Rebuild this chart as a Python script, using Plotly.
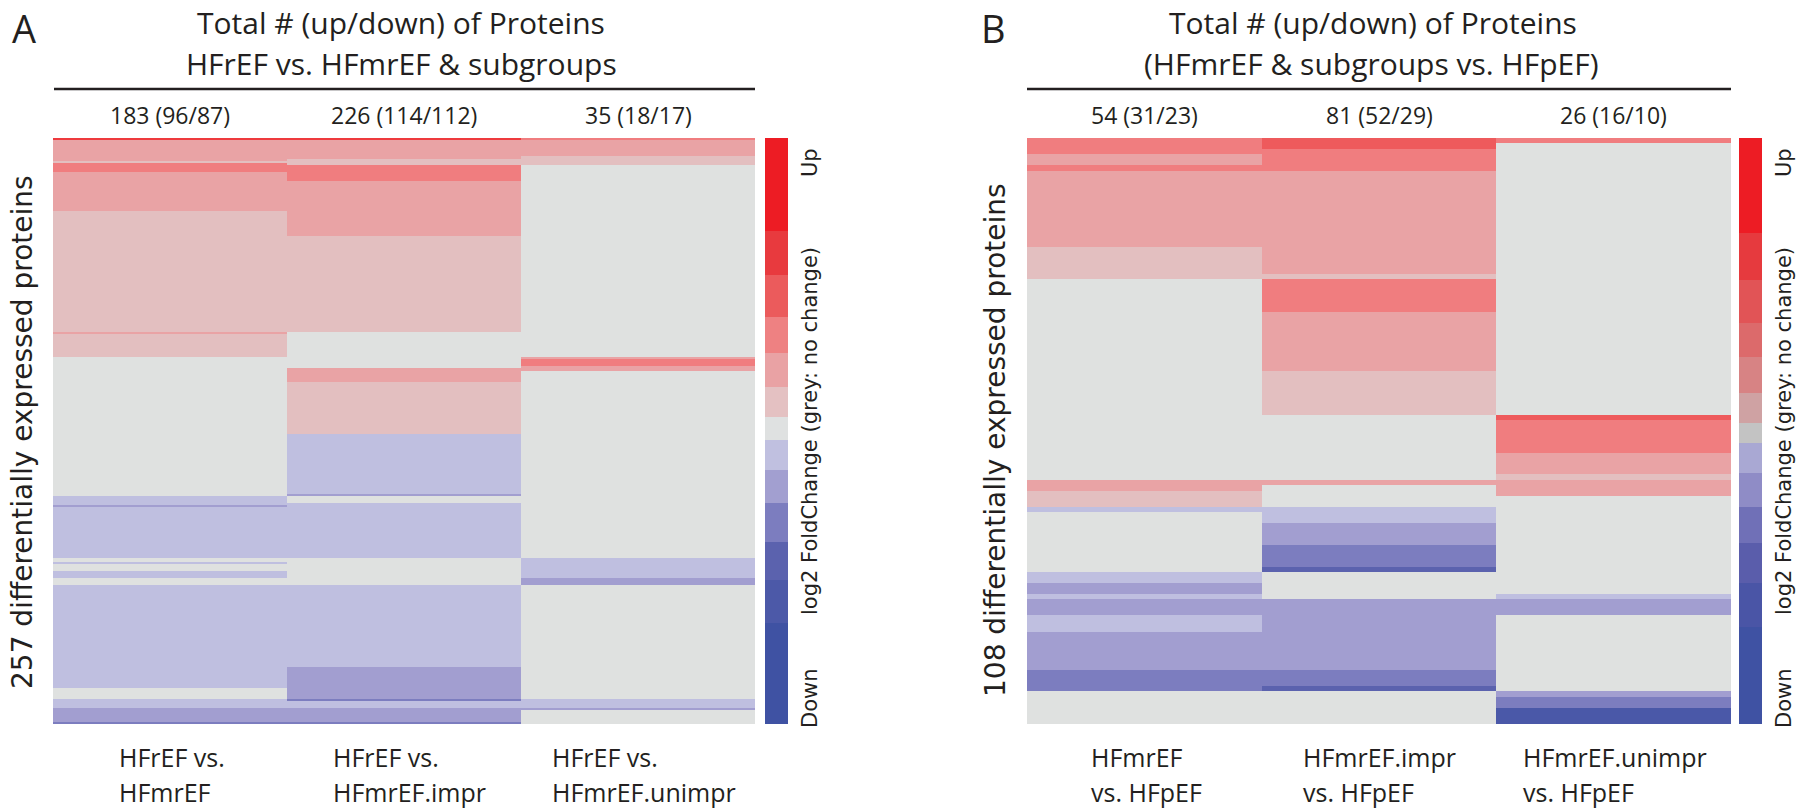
import plotly.graph_objects as go

# ---------------- DATA ----------------
# run-length encoded rows per comparison: (log2FC level, number of proteins)
# level: +6 strongest up ... 0 no change ... -6 strongest down
A_columns = ["HFrEF vs. HFmrEF", "HFrEF vs. HFmrEF.impr", "HFrEF vs. HFmrEF.unimpr"]
A_counts = ["183 (96/87)", "226 (114/112)", "35 (18/17)"]
A_col1_runs = [(5, 1), (2, 9), (1, 1), (3, 4), (2, 17), (1, 53), (2, 1), (1, 10), (0, 61),
               (-1, 4), (-2, 1), (-1, 22), (0, 2), (-1, 1), (0, 3), (-1, 3), (0, 3),
               (-1, 45), (0, 5), (-1, 4), (-2, 6), (-3, 1)]
A_col2_runs = [(5, 1), (2, 8), (1, 3), (3, 7), (2, 24), (1, 42), (0, 16), (2, 6), (1, 23),
               (-1, 26), (-2, 1), (0, 3), (-1, 24), (0, 12), (-1, 36), (-2, 14), (-3, 1),
               (-1, 3), (-2, 6), (-3, 1)]
A_col3_runs = [(3, 1), (2, 7), (1, 4), (0, 84), (2, 1), (3, 3), (2, 2), (0, 82), (-1, 9),
               (-2, 3), (0, 50), (-1, 4), (-2, 1), (0, 6)]

B_columns = ["HFmrEF vs. HFpEF", "HFmrEF.impr vs. HFpEF", "HFmrEF.unimpr vs. HFpEF"]
B_counts = ["54 (31/23)", "81 (52/29)", "26 (16/10)"]
B_col1_runs = [(3, 3), (2, 2), (3, 1), (2, 14), (1, 6), (0, 37), (2, 2), (1, 3), (-1, 1),
               (0, 11), (-1, 2), (-2, 2), (-1, 1), (-2, 3), (-1, 3), (-2, 7), (-3, 4), (0, 6)]
B_col2_runs = [(4, 2), (3, 4), (2, 19), (1, 1), (3, 6), (2, 11), (1, 8), (0, 12), (2, 1),
               (0, 4), (-1, 3), (-2, 4), (-3, 4), (-4, 1), (0, 5), (-2, 13), (-3, 3), (-4, 1), (0, 6)]
B_col3_runs = [(3, 1), (0, 50), (4, 1), (3, 6), (2, 4), (1, 1), (2, 3), (0, 18), (-1, 1),
               (-2, 3), (0, 14), (-2, 1), (-3, 2), (-5, 3)]

A_title = ["Total # (up/down) of Proteins", "HFrEF vs. HFmrEF & subgroups"]
B_title = ["Total # (up/down) of Proteins", "(HFmrEF & subgroups vs. HFpEF)"]
A_ylabel = "257 differentially expressed proteins"
B_ylabel = "108 differentially expressed proteins"
A_xlabels = [["HFrEF vs.", "HFmrEF"], ["HFrEF vs.", "HFmrEF.impr"], ["HFrEF vs.", "HFmrEF.unimpr"]]
B_xlabels = [["HFmrEF", "vs. HFpEF"], ["HFmrEF.impr", "vs. HFpEF"], ["HFmrEF.unimpr", "vs. HFpEF"]]
cbar_labels = ["Up", "log2 FoldChange (grey: no change)", "Down"]

# ---------------- STYLE ----------------
W, H = 1800, 809
# cell colours for levels -6..+6
cell_colors = ["#3F52A3", "#4A58A8", "#5B62AE", "#7C7DBF", "#A29ED0", "#BFBFE0", "#DFE1E0",
               "#E3BFC0", "#E9A3A5", "#F07D7F", "#EE5A5C", "#EE3A3E", "#ED1C24"]
# colour bar bands top->bottom (pixel heights)
cbA_heights = [93, 44, 42, 36, 34, 30, 23, 30, 33, 39, 38, 43, 101]
cbA_colors = ["#ED1C24", "#E83A3E", "#EB5B5C", "#EE8182", "#E9A2A4", "#E4C1C2", "#DFE1E1",
              "#C0C0E0", "#A29FD0", "#7C7DBF", "#5B62AE", "#4C59A8", "#3F52A3"]
cbB_heights = [95, 47, 43, 34, 36, 30, 20, 30, 34, 36, 40, 44, 97]
cbB_colors = ["#ED1C24", "#E63A3E", "#E15456", "#DC6A6B", "#D78384", "#CFA2A3", "#C3C3C3",
              "#A9A8D3", "#8F8CC6", "#7070B7", "#5A5DAB", "#4A55A6", "#3F52A3"]

TOP, BOT = 138, 724
A_x = (53, 755)
B_x = (1027, 1731)
cbA_x = (765, 788)
cbB_x = (1739, 1762)

TXT = "#231F20"
F_MY = "Open Sans, Liberation Sans, sans-serif"
F_GEO = "DejaVu Sans, sans-serif"


def px(x):
    return x / W


def py(y):
    return 1 - y / H


def expand(runs):
    out = []
    for lvl, n in runs:
        out += [lvl] * n
    return out


def step_scale(colors):
    n = len(colors)
    cs = []
    for i, c in enumerate(colors):
        cs.append([i / n, c])
        cs.append([(i + 1) / n, c])
    return cs


fig = go.Figure()

panels = [
    ("A", [A_col1_runs, A_col2_runs, A_col3_runs], A_x, cbA_x, cbA_heights, cbA_colors, 1),
    ("B", [B_col1_runs, B_col2_runs, B_col3_runs], B_x, cbB_x, cbB_heights, cbB_colors, 3),
]

layout_axes = {}
for name, cols, xr, cbx, cbh, cbc, ax in panels:
    c = [expand(r) for r in cols]
    n = len(c[0])
    z = [[c[0][i], c[1][i], c[2][i]] for i in range(n)]
    xa = "x" if ax == 1 else f"x{ax}"
    ya = "y" if ax == 1 else f"y{ax}"
    fig.add_trace(go.Heatmap(z=z, x=[0, 1, 2], y=list(range(n)), xaxis=xa, yaxis=ya,
                             colorscale=step_scale(cell_colors), zmin=-6.5, zmax=6.5,
                             showscale=False, hoverinfo="skip"))
    edges = [0]
    for h in cbh:
        edges.append(edges[-1] + h)
    xa2 = f"x{ax + 1}"
    ya2 = f"y{ax + 1}"
    fig.add_trace(go.Heatmap(z=[[k] for k in range(len(cbh))], x=[0, 1], y=edges,
                             xaxis=xa2, yaxis=ya2, colorscale=step_scale(cbc),
                             zmin=-0.5, zmax=len(cbh) - 0.5, showscale=False, hoverinfo="skip"))
    key = "" if ax == 1 else str(ax)
    layout_axes[f"xaxis{key}"] = dict(domain=[px(xr[0]), px(xr[1])], range=[-0.5, 2.5],
                                      visible=False, fixedrange=True, anchor=ya)
    layout_axes[f"yaxis{key}"] = dict(domain=[py(BOT), py(TOP)], range=[n - 0.5, -0.5],
                                      visible=False, fixedrange=True, anchor=xa)
    layout_axes[f"xaxis{ax + 1}"] = dict(domain=[px(cbx[0]), px(cbx[1])], range=[0, 1],
                                         visible=False, fixedrange=True, anchor=ya2)
    layout_axes[f"yaxis{ax + 1}"] = dict(domain=[py(BOT), py(TOP)], range=[edges[-1], 0],
                                         visible=False, fixedrange=True, anchor=xa2)

ann = []


def text(x, y, s, size, family=F_MY, anchor="center", angle=0):
    ann.append(dict(x=px(x), y=py(y), xref="paper", yref="paper", text=s, showarrow=False,
                    xanchor=anchor, yanchor="middle", textangle=angle,
                    font=dict(family=family, size=size, color=TXT)))


# panel letters
text(10, 28, "A", 38, anchor="left")
text(979, 28, "B", 38, anchor="left")
# titles
text(401, 23, A_title[0], 30)
text(401, 63, A_title[1], 30)
text(1373, 23, B_title[0], 30)
text(1371, 63, B_title[1], 30)
# counts
for i, s in enumerate(A_counts):
    x0 = A_x[0] + (A_x[1] - A_x[0]) * (i + 0.5) / 3
    text(x0, 115, s, 23)
for i, s in enumerate(B_counts):
    x0 = B_x[0] + (B_x[1] - B_x[0]) * (i + 0.5) / 3
    text(x0, 115, s, 23)
# y labels
text(22, 432, A_ylabel, 28, family=F_GEO, angle=-90)
text(995, 440, B_ylabel, 28, family=F_GEO, angle=-90)
# colour bar labels
for cx in (cbA_x[0] + 45, cbB_x[0] + 45):
    text(cx, 163, cbar_labels[0], 21, family=F_GEO, angle=-90)
    text(cx, 431, cbar_labels[1], 21, family=F_GEO, angle=-90)
    text(cx, 698, cbar_labels[2], 21, family=F_GEO, angle=-90)
# bottom labels (left aligned blocks)
A_lab_x = [117, 331, 550]
B_lab_x = [1089, 1301, 1521]
for xs, labs in ((A_lab_x, A_xlabels), (B_lab_x, B_xlabels)):
    for x0, (l1, l2) in zip(xs, labs):
        text(x0, 757, l1, 25, anchor="left")
        text(x0, 792, l2, 25, anchor="left")

shapes = [
    dict(type="line", xref="paper", yref="paper", x0=px(54), x1=px(755), y0=py(89), y1=py(89),
         line=dict(color=TXT, width=2.5)),
    dict(type="line", xref="paper", yref="paper", x0=px(1027), x1=px(1731), y0=py(89), y1=py(89),
         line=dict(color=TXT, width=2.5)),
]

fig.update_layout(width=W, height=H, margin=dict(l=0, r=0, t=0, b=0), paper_bgcolor="white",
                  plot_bgcolor="white", showlegend=False, annotations=ann, shapes=shapes,
                  **layout_axes)

fig.write_html("out.html", config={"displayModeBar": False},
               post_script="document.body.style.margin='0';document.body.style.overflow='hidden';")
